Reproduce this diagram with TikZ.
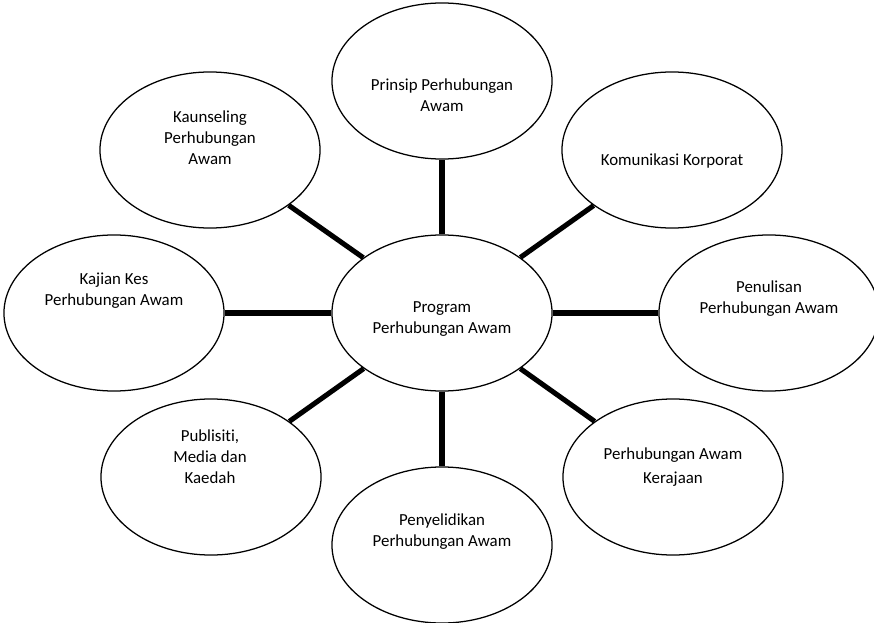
\documentclass[tikz,border=0pt]{standalone}
\usepackage{fontspec}
\setmainfont{Carlito}[Ligatures=NoCommon]
\usetikzlibrary{shapes.geometric,positioning,calc}

\tikzset{
	bubble/.style={draw, ellipse, line width=0.9pt, minimum width=5.5cm, minimum height=3.9cm, inner sep=0pt},
	txt/.style={align=center, font=\fontsize{12}{15}\selectfont},
	spoke/.style={line width=3.6pt}
}

\begin{document}
\begin{tikzpicture}
		[x=0.025cm, y=-0.025cm]
		\useasboundingbox (0,0) rectangle (874,623);
		% the eight topics round the programme
		\node[bubble] (prog) at (442,313) {};
		\node[bubble] (prinsip) at (442,81) {};
		\node[bubble] (kaun) at (210,150) {};
		\node[bubble] (komu) at (672,150) {};
		\node[bubble] (kajian) at (114,313) {};
		\node[bubble] (tulis) at (769,313) {};
		\node[bubble] (publ) at (211,477) {};
		\node[bubble] (kerajaan) at (673,477) {};
		\node[bubble] (selidik) at (442,545) {};

		\node[txt] (prog-t) at (442,319) {Program\\Perhubungan Awam};
		\node[txt] (prinsip-t) at (442,95) {Prinsip Perhubungan\\Awam};
		\node[txt] (kaun-t) at (210,138) {Kaunseling\\Perhubungan\\Awam};
		\node[txt] (komu-t) at (672,161) {Komunikasi Korporat};
		\node[txt] (kajian-t) at (114,291) {Kajian Kes\\Perhubungan Awam};
		\node[txt] (tulis-t) at (769,299) {Penulisan\\Perhubungan Awam};
		\node[txt] (publ-t) at (210,457) {Publisiti,\\Media dan\\Kaedah};
		\node[txt] (kerajaan-t) at (673,467) {Perhubungan Awam\\[2pt]Kerajaan};
		\node[txt] (selidik-t) at (442,532) {Penyelidikan\\Perhubungan Awam};

		\foreach \n in {prinsip,kaun,komu,kajian,tulis,publ,kerajaan,selidik}
			\draw[spoke] (prog) -- (\n);
	\end{tikzpicture}
\end{document}
